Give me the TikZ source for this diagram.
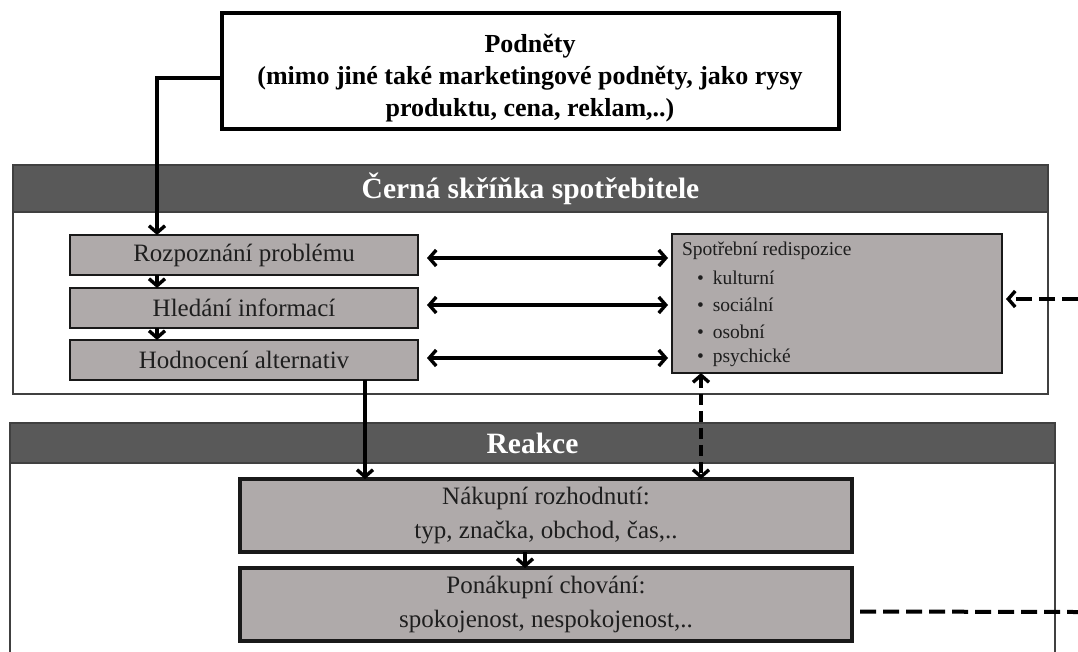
\documentclass[tikz,border=0pt]{standalone}
\usepackage{fontspec}
\setmainfont{Liberation Serif}
\usetikzlibrary{arrows.meta,calc}
\definecolor{boxgray}{RGB}{175,170,170}
\definecolor{hdrgray}{RGB}{89,89,89}
\definecolor{inkgray}{RGB}{30,30,30}

\begin{document}
\begin{tikzpicture}[x=1pt,y=-1pt,
  every node/.style={inner sep=0pt, outer sep=0pt},
  frame/.style={draw=black!75, line width=2pt, fill=white, anchor=north west},
  header/.style={draw=black!75, line width=2pt, fill=hdrgray, anchor=north west,
    text=white, font=\fontsize{29.5}{34}\selectfont\bfseries},
  stimbox/.style={draw=black, line width=3.2pt, fill=white, anchor=north west},
  graybox/.style={draw=black!90, line width=2.8pt, fill=boxgray, anchor=north west,
    text=inkgray, font=\fontsize{25}{30}\selectfont},
  widebox/.style={graybox, line width=3.6pt, align=center,
    font=\fontsize{25}{34}\selectfont},
  smalltext/.style={anchor=west, text=inkgray, font=\fontsize{19.5}{24}\selectfont},
  arr/.style={line width=3.4pt, -{Straight Barb[length=7pt,width=16pt]}},
  darr/.style={line width=3.4pt, {Straight Barb[length=7pt,width=16pt]}-{Straight Barb[length=7pt,width=16pt]}},
  vdash/.style={line width=3.4pt, dash pattern=on 11pt off 6pt},
  hdash/.style={line width=4pt, dash pattern=on 16pt off 7pt},
]
\clip (0,0) rectangle (1078,651);
\fill[white] (0,0) rectangle (1078,651);

% stimulus box
\node[stimbox, minimum width=617pt, minimum height=116pt] (pod) at (222,13) {};
\node[align=center, font=\fontsize{26}{32}\selectfont\bfseries] (podtxt) at (530,78)
  {Podněty\\(mimo jiné také marketingové podněty, jako rysy\\produktu, cena, reklam,..)};

% consumer black box
\node[frame, minimum width=1035pt, minimum height=229pt] (bbox) at (13,165) {};
\node[header, minimum width=1035pt, minimum height=47pt] (bhead) at (13,165)
  {Černá skříňka spotřebitele};

\node[graybox, minimum width=348pt, minimum height=40pt] (r1) at (70,235) {Rozpoznání problému};
\node[graybox, minimum width=348pt, minimum height=40pt] (r2) at (70,288) {Hledání informací};
\node[graybox, minimum width=348pt, minimum height=40pt] (r3) at (70,340) {Hodnocení alternativ};

\node[graybox, minimum width=330pt, minimum height=139pt] (rd) at (672,234) {};
\node[smalltext] (rdt) at (682,251) {Spotřební redispozice};
\node[smalltext] (i1) at (697,278) {\textbullet\hspace{9pt}kulturní};
\node[smalltext] (i2) at (697,305) {\textbullet\hspace{9pt}sociální};
\node[smalltext] (i3) at (697,332) {\textbullet\hspace{9pt}osobní};
\node[smalltext] (i4) at (697,358) {\textbullet\hspace{9pt}psychické};

% response box
\node[frame, minimum width=1045pt, minimum height=260pt] (rbox) at (10,423) {};
\node[header, minimum width=1045pt, minimum height=40pt] (rhead) at (10,423) {Reakce};

\node[widebox, minimum width=612pt, minimum height=73pt] (nak) at (240,479)
  {Nákupní rozhodnutí:\\typ, značka, obchod, čas,..};
\node[widebox, minimum width=612pt, minimum height=73pt] (pon) at (240,568)
  {Ponákupní chování:\\spokojenost, nespokojenost,..};

% connectors
\draw[arr] ($(pod.west)+(0,7)$) -| ($(r1.north west)+(87,0)$);
\draw[arr] ($(r1.south west)+(87,0)$) -- ($(r2.north west)+(87,0)$);
\draw[arr] ($(r2.south west)+(87,0)$) -- ($(r3.north west)+(87,0)$);

\draw[darr, shorten <=9pt, shorten >=4pt] ($(r1.east)+(0,3)$) -- ($(r1.east -| rd.west)+(0,3)$);
\draw[darr, shorten <=9pt, shorten >=4pt] ($(r2.east)+(0,-3)$) -- ($(r2.east -| rd.west)+(0,-3)$);
\draw[darr, shorten <=9pt, shorten >=4pt] ($(r3.east)+(0,-2)$) -- ($(r3.east -| rd.west)+(0,-2)$);

\draw[arr] ($(r3.south west)+(295,0)$) coordinate (hs) -- (hs |- nak.north);
\draw[vdash, {Straight Barb[length=7pt,width=16pt]}-{Straight Barb[length=7pt,width=16pt]}]
  ($(rd.south west)+(29,0)$) coordinate (ds) -- (ds |- nak.north);
\draw[arr] ($(nak.south west)+(285,0)$) coordinate (ns) -- (ns |- pon.north);

\coordinate (fbin) at (1078,299);
\draw[hdash, line width=3.4pt, -{Straight Barb[length=7pt,width=16pt]}, shorten >=4pt]
  (fbin) -- (fbin -| rd.east);
\coordinate (fbout) at (1078,612);
\draw[hdash] ($(pon.east)+(8,7)$) -- (fbout);
\end{tikzpicture}
\end{document}
